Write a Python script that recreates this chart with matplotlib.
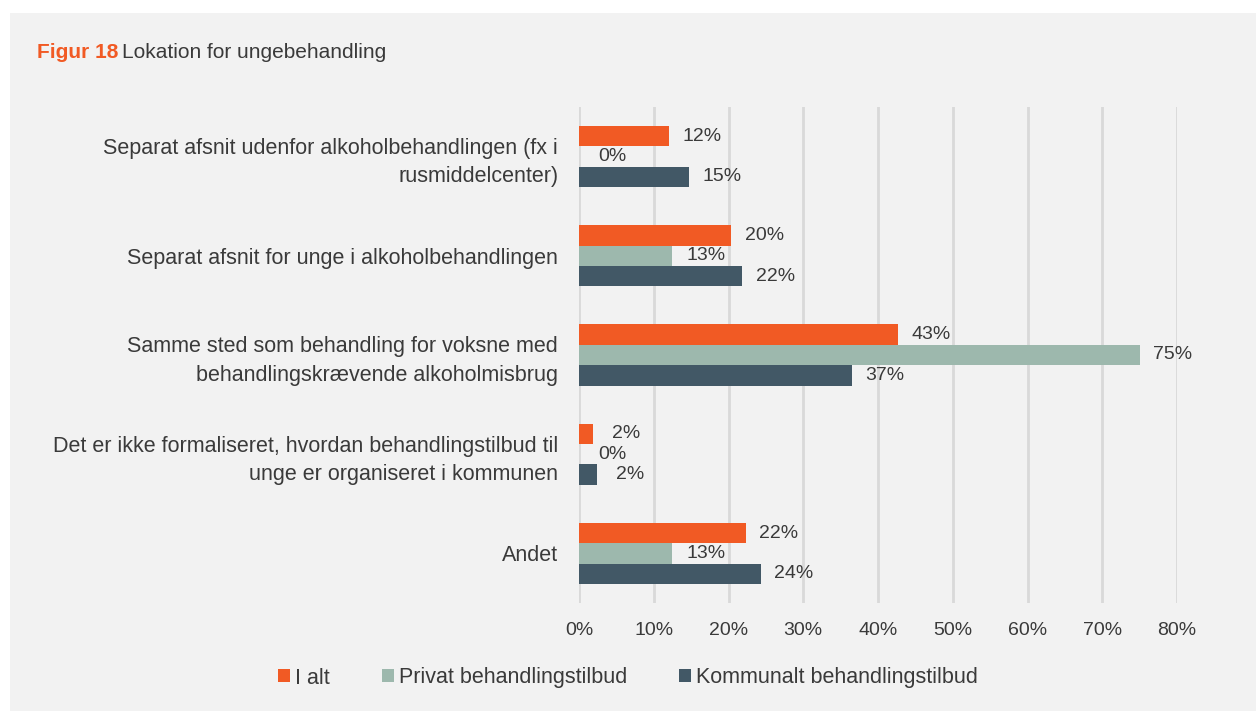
import matplotlib.pyplot as plt
from matplotlib.patches import Rectangle
from matplotlib.transforms import offset_copy

plt.rcParams['font.family'] = ['Liberation Sans', 'DejaVu Sans']

categories = [
    "Separat afsnit udenfor alkoholbehandlingen (fx i\nrusmiddelcenter)",
    "Separat afsnit for unge i alkoholbehandlingen",
    "Samme sted som behandling for voksne med\nbehandlingskrævende alkoholmisbrug",
    "Det er ikke formaliseret, hvordan behandlingstilbud til\nunge er organiseret i kommunen",
    "Andet",
]
series_names = ["I alt", "Privat behandlingstilbud", "Kommunalt behandlingstilbud"]
i_alt = [12.0, 20.3, 42.7, 1.9, 22.3]
privat = [0, 12.5, 75.0, 0, 12.5]
kommunalt = [14.7, 21.8, 36.5, 2.4, 24.3]
colors = ["#F15A24", "#9DB8AD", "#425866"]
xticks = [0, 10, 20, 30, 40, 50, 60, 70, 80]

txt = "#3a3a3a"

fig = plt.figure(figsize=(12.56, 7.11), dpi=100, facecolor="white")
# grey panel
fig.patches.append(Rectangle((10 / 1256, 0), 1, 1 - 13 / 711, transform=fig.transFigure,
                             facecolor="#F2F2F2", edgecolor="none", zorder=-10))

ax = fig.add_axes([579 / 1256, 1 - 603 / 711, (1177 - 579) / 1256, (603 - 107) / 711])
ax.set_facecolor("none")

h = 0.205
for k, vals in enumerate([i_alt, privat, kommunalt]):
    for i, v in enumerate(vals):
        y = i + (k - 1) * h
        ax.barh(y, v, height=h, color=colors[k], zorder=3,
                label=series_names[k] if i == 0 else None)
        ax.annotate(f"{int(v + 0.5)}%", (v, y), xytext=(24, 0), textcoords="offset points",
                    ha="center", va="center", fontsize=14, color=txt)

ax.set_ylim(4.5, -0.5)
ax.set_xlim(0, 80)
ax.set_yticks(range(len(categories)))
ax.set_yticklabels(categories, fontsize=15.5, color=txt, linespacing=1.45)
ax.set_xticks(xticks)
ax.set_xticklabels([f"{t}%" for t in xticks], fontsize=14, color=txt)
ax.tick_params(axis="y", length=0, pad=15)
ax.tick_params(axis="x", length=0, pad=14)
ax.grid(axis="x", color="#D9D9D9", linewidth=2, zorder=0)
for s in ax.spines.values():
    s.set_visible(False)

fig.legend(loc="center", bbox_to_anchor=(0.5, 1 - 678 / 711), ncol=3, frameon=False,
           fontsize=15.5, handlelength=0.55, handleheight=0.55, handletextpad=0.25,
           columnspacing=2.4, labelcolor=txt)

t1 = fig.text(37 / 1256, 1 - 53 / 711, "Figur 18", fontsize=15, fontweight="bold",
              color="#F15A24", va="center")
fig.canvas.draw()
w = t1.get_window_extent().width
fig.text(37 / 1256, 1 - 53 / 711, "Lokation for ungebehandling", fontsize=15,
         color=txt, va="center",
         transform=offset_copy(fig.transFigure, fig=fig, x=w + 4, y=0, units="dots"))

fig.savefig("out.png", dpi=100, facecolor=fig.get_facecolor())
